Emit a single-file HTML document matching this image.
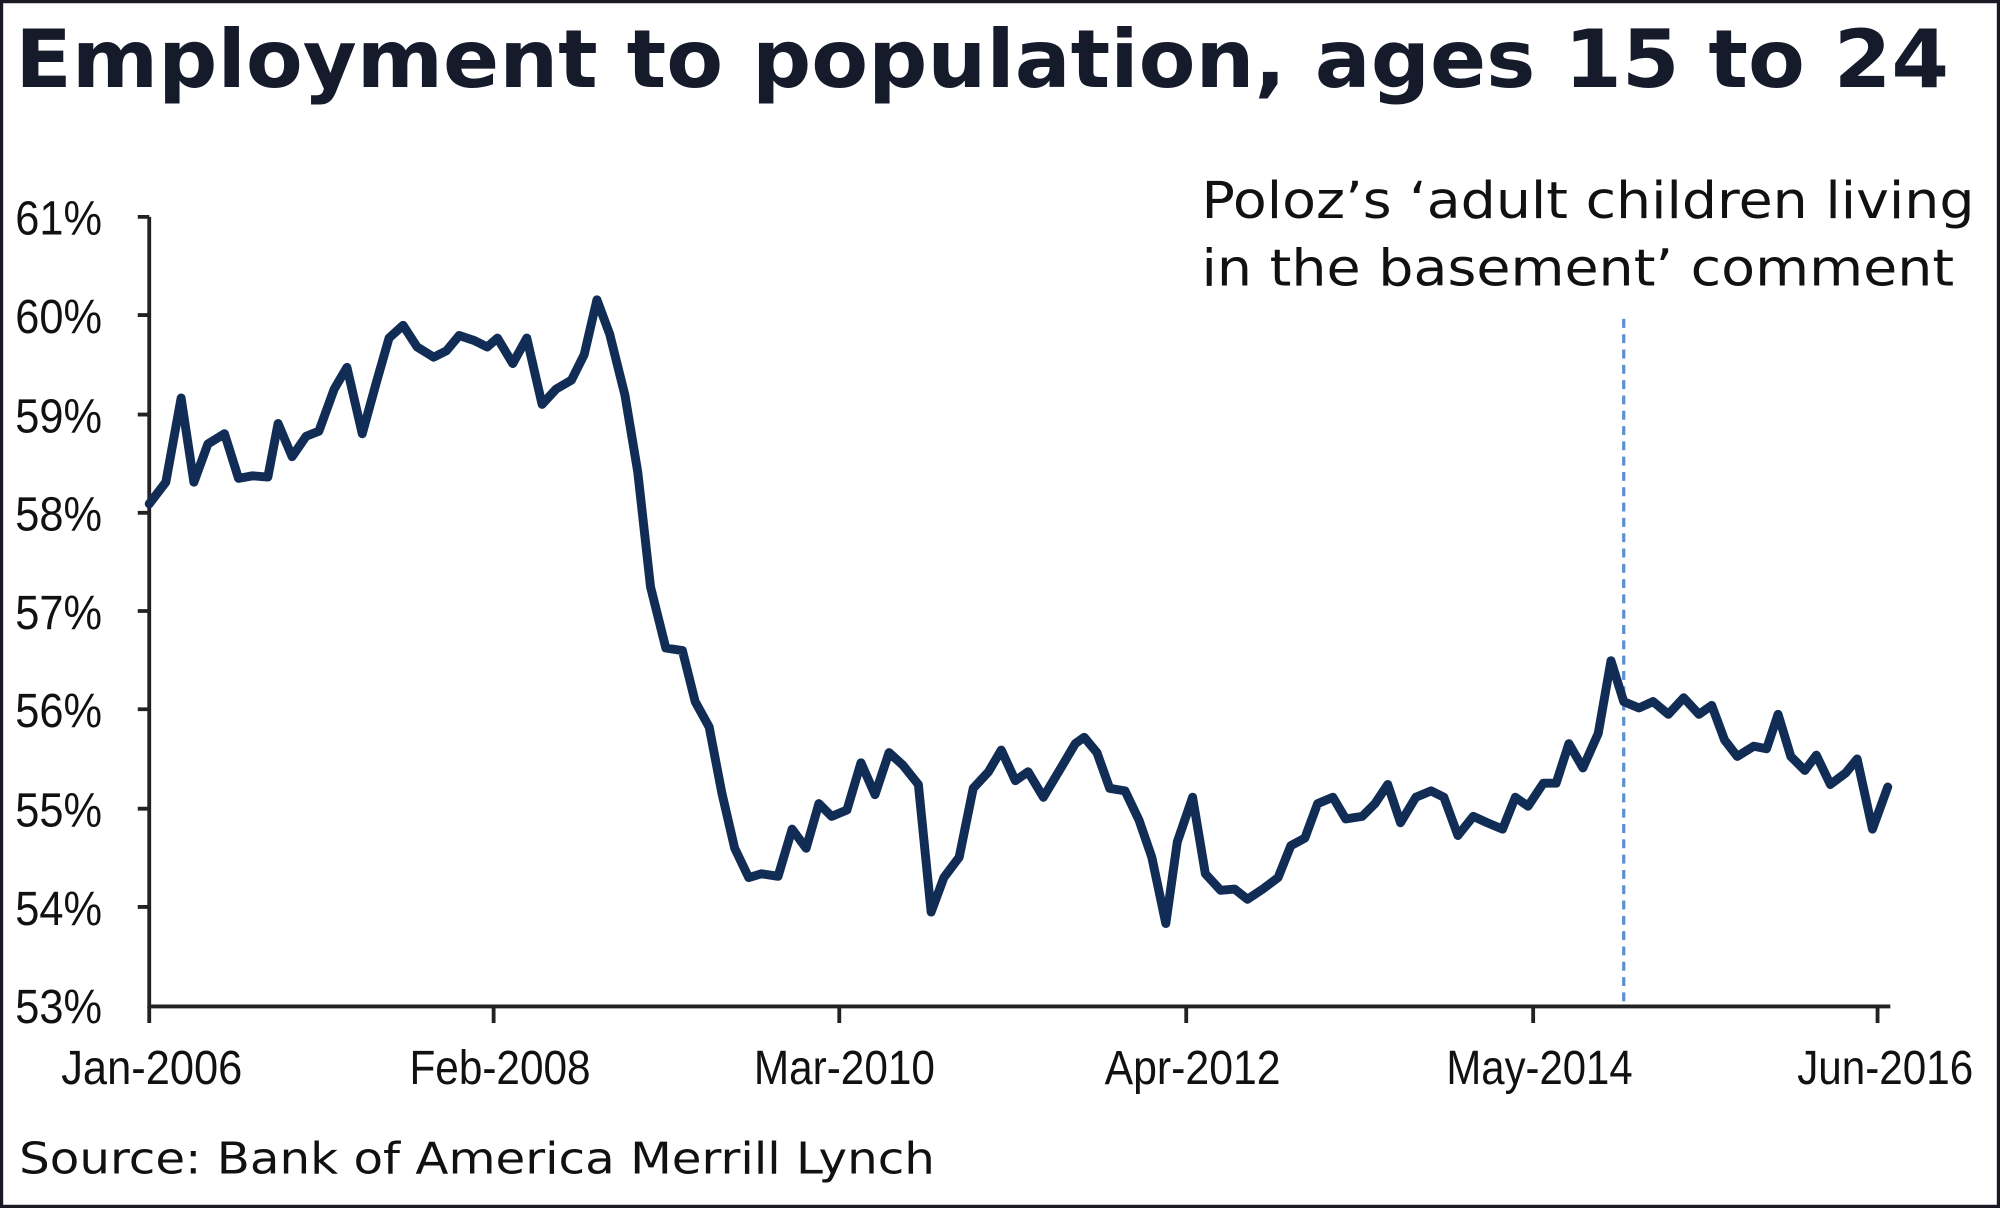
<!DOCTYPE html>
<html><head><style>html,body{margin:0;padding:0;background:#fff}svg{display:block}</style></head>
<body>
<svg width="2000" height="1208" viewBox="0 0 1568 947" xmlns="http://www.w3.org/2000/svg">
<rect x="1" y="1" width="1566" height="945" fill="#fff" stroke="#1a1a24" stroke-width="3"/>
<text x="12" y="68" font-family="DejaVu Sans, sans-serif" font-weight="bold" font-size="63" fill="#161b2b" textLength="1516" lengthAdjust="spacingAndGlyphs">Employment to population, ages 15 to 24</text>
<text x="942" y="171" font-family="DejaVu Sans, sans-serif" font-size="40" fill="#111" textLength="606" lengthAdjust="spacingAndGlyphs">Poloz’s ‘adult children living</text>
<text x="942" y="224" font-family="DejaVu Sans, sans-serif" font-size="40" fill="#111" textLength="590" lengthAdjust="spacingAndGlyphs">in the basement’ comment</text>
<text x="15" y="920" font-family="DejaVu Sans, sans-serif" font-size="34" fill="#111" textLength="718" lengthAdjust="spacingAndGlyphs">Source: Bank of America Merrill Lynch</text>
<g font-family="Liberation Sans, sans-serif" font-size="38" fill="#111" text-anchor="end">
<text x="80" y="184" textLength="68" lengthAdjust="spacingAndGlyphs">61%</text>
<text x="80" y="261" textLength="68" lengthAdjust="spacingAndGlyphs">60%</text>
<text x="80" y="339" textLength="68" lengthAdjust="spacingAndGlyphs">59%</text>
<text x="80" y="416" textLength="68" lengthAdjust="spacingAndGlyphs">58%</text>
<text x="80" y="493" textLength="68" lengthAdjust="spacingAndGlyphs">57%</text>
<text x="80" y="570" textLength="68" lengthAdjust="spacingAndGlyphs">56%</text>
<text x="80" y="648" textLength="68" lengthAdjust="spacingAndGlyphs">55%</text>
<text x="80" y="725" textLength="68" lengthAdjust="spacingAndGlyphs">54%</text>
<text x="80" y="802" textLength="68" lengthAdjust="spacingAndGlyphs">53%</text>
</g>
<g font-family="Liberation Sans, sans-serif" font-size="38" fill="#111" text-anchor="middle">
<text x="119" y="850" textLength="142" lengthAdjust="spacingAndGlyphs">Jan-2006</text>
<text x="392" y="850" textLength="142" lengthAdjust="spacingAndGlyphs">Feb-2008</text>
<text x="662" y="850" textLength="142" lengthAdjust="spacingAndGlyphs">Mar-2010</text>
<text x="935" y="850" textLength="138" lengthAdjust="spacingAndGlyphs">Apr-2012</text>
<text x="1207" y="850" textLength="146" lengthAdjust="spacingAndGlyphs">May-2014</text>
<text x="1478" y="850" textLength="138" lengthAdjust="spacingAndGlyphs">Jun-2016</text>
</g>
<g stroke="#222" stroke-width="3" fill="none">
<line x1="117" y1="170" x2="117" y2="790"/>
<line x1="116" y1="789" x2="1482" y2="789"/>
<path d="M108 170H117M108 247H117M108 325H117M108 402H117M108 479H117M108 556H117M108 634H117M108 711H117"/>
<path d="M117 789V802M387 789V802M658 789V802M930 789V802M1202 789V802M1472 789V802"/>
</g>
<line x1="1273" y1="250" x2="1273" y2="787" stroke="#5b8fd0" stroke-width="2.5" stroke-dasharray="7,5"/>
<polyline fill="none" stroke="#112d55" stroke-width="7" stroke-linejoin="round" stroke-linecap="round" points="117,395 130,378 142,312 152,378 163,348 176,340 187,375 198,373 210,374 218,332 229,358 240,342 250,338 262,305 272,288 284,340 295,300 305,265 316,255 327,272 340,280 350,275 360,263 372,267 382,272 390,265 402,285 413,265 425,317 436,305 448,298 458,278 468,235 478,262 490,310 500,370 510,460 522,508 535,510 545,550 556,570 566,622 576,665 587,688 597,685 610,687 621,650 632,665 642,630 652,640 664,635 675,598 686,623 697,590 708,600 720,615 730,715 740,688 752,672 763,618 775,605 785,588 796,612 806,605 818,625 830,605 843,583 850,578 860,590 870,618 882,620 893,643 903,672 914,724 923,660 935,625 945,685 957,698 968,697 978,705 990,697 1002,688 1012,663 1023,657 1033,630 1045,625 1055,642 1068,640 1078,630 1088,615 1098,645 1110,625 1122,620 1132,625 1143,655 1155,640 1166,645 1178,650 1188,625 1198,632 1210,614 1220,614 1230,583 1241,602 1253,575 1263,518 1273,550 1285,555 1296,550 1308,560 1320,547 1332,560 1342,553 1352,580 1362,593 1375,585 1385,587 1394,560 1404,593 1415,604 1424,592 1435,615 1447,606 1456,595 1468,650 1480,617"/>
</svg>
</body></html>
